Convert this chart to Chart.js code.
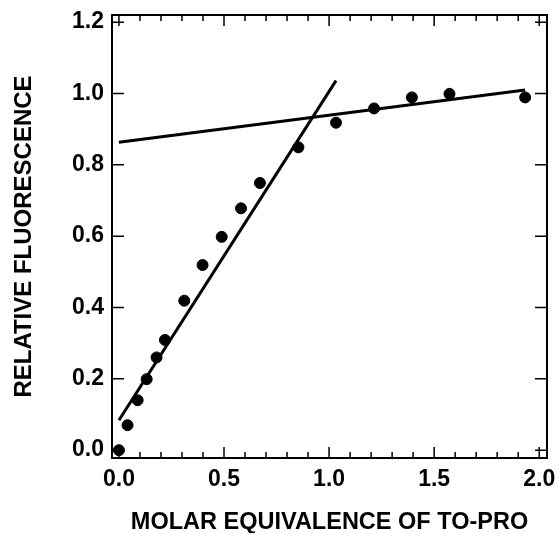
<!DOCTYPE html>
<html>
<head>
<meta charset="utf-8">
<script src="https://cdn.jsdelivr.net/npm/chart.js@4.4.1/dist/chart.umd.min.js"></script>
<style>
  html, body { margin: 0; padding: 0; background: #fff; }
  #wrap { width: 558px; height: 533px; position: relative; }
</style>
</head>
<body>
<div id="wrap"><canvas id="chart"></canvas></div>
<script>
// --- Data ---
const molarEq = [0.0, 0.041, 0.089, 0.132, 0.179, 0.219, 0.311, 0.398, 0.489, 0.581, 0.671, 0.854, 1.033, 1.214, 1.394, 1.573, 1.933];
const fluorescence = [0.0, 0.070, 0.140, 0.199, 0.260, 0.309, 0.419, 0.519, 0.598, 0.678, 0.749, 0.849, 0.918, 0.958, 0.989, 0.999, 0.989];

// fitted lines (end points)
const riseX = [0.0, 1.033];
const riseY = [0.084, 1.036];
const plateauX = [0.0, 1.933];
const plateauY = [0.863, 1.010];

// tick labels
const xMajorTicks = [0.0, 0.5, 1.0, 1.5, 2.0];
const xMinorTicks = [0.1, 0.2, 0.3, 0.4, 0.6, 0.7, 0.8, 0.9, 1.1, 1.2, 1.3, 1.4, 1.6, 1.7, 1.8, 1.9];
const yMajorTicks = [0.0, 0.2, 0.4, 0.6, 0.8, 1.0, 1.2];

const FONT = '"Liberation Sans", Arial, Helvetica, sans-serif';

function toPoints(xs, ys) {
  return xs.map((x, i) => ({ x, y: ys[i] }));
}

// --- Frame + inward ticks ---
const framePlugin = {
  id: 'frame',
  afterDatasetsDraw(chart) {
    const { ctx, chartArea: a, scales } = chart;
    ctx.save();
    ctx.strokeStyle = '#000';
    ctx.lineWidth = 2;
    ctx.strokeRect(a.left, a.top, a.right - a.left, a.bottom - a.top);
    ctx.lineWidth = 1.5;
    ctx.beginPath();
    const tickX = (v, len) => {
      const px = scales.x.getPixelForValue(v);
      ctx.moveTo(px, a.bottom); ctx.lineTo(px, a.bottom - len);
      ctx.moveTo(px, a.top); ctx.lineTo(px, a.top + len);
    };
    xMajorTicks.forEach((v) => tickX(v, 11));
    xMinorTicks.forEach((v) => tickX(v, 6));
    yMajorTicks.forEach((v) => {
      const py = scales.y.getPixelForValue(v);
      ctx.moveTo(a.left, py); ctx.lineTo(a.left + 12, py);
      ctx.moveTo(a.right, py); ctx.lineTo(a.right - 12, py);
    });
    ctx.stroke();
    ctx.restore();
  },
};

const ctx = document.getElementById('chart').getContext('2d');
new Chart(ctx, {
  type: 'scatter',
  data: {
    datasets: [
      {
        data: toPoints(molarEq, fluorescence),
        backgroundColor: '#000',
        borderColor: '#000',
        pointRadius: 5.5,
        pointHoverRadius: 5.5,
      },
      {
        data: toPoints(riseX, riseY),
        showLine: true,
        borderColor: '#000',
        borderWidth: 3,
        pointRadius: 0,
      },
      {
        data: toPoints(plateauX, plateauY),
        showLine: true,
        borderColor: '#000',
        borderWidth: 3,
        pointRadius: 0,
      },
    ],
  },
  options: {
    responsive: true,
    maintainAspectRatio: false,
    animation: false,
    layout: { padding: { top: 15, right: 11, left: 0, bottom: 0 } },
    plugins: { legend: { display: false }, tooltip: { enabled: false } },
    scales: {
      x: {
        type: 'linear',
        min: -0.033,
        max: 2.037,
        grid: { display: false, drawTicks: false },
        border: { display: false },
        afterBuildTicks: (scale) => {
          scale.ticks = xMajorTicks.map((v) => ({ value: v }));
        },
        afterFit: (scale) => {
          scale.height = 75;
          scale.paddingLeft = 0;
          scale.paddingRight = 0;
        },
        ticks: {
          autoSkip: false,
          maxRotation: 0,
          padding: 8,
          color: '#000',
          font: { family: FONT, size: 23, weight: 'bold' },
          callback: (v) => Number(v).toFixed(1),
        },
        title: {
          display: true,
          text: 'MOLAR EQUIVALENCE OF TO-PRO',
          color: '#000',
          font: { family: FONT, size: 23.5, weight: 'bold' },
          padding: { top: 0, bottom: -4 },
        },
      },
      y: {
        type: 'linear',
        min: -0.022,
        max: 1.22,
        grid: { display: false, drawTicks: false },
        border: { display: false },
        afterBuildTicks: (scale) => {
          scale.ticks = yMajorTicks.map((v) => ({ value: v }));
        },
        afterFit: (scale) => {
          scale.width = 112;
          scale.paddingTop = 0;
          scale.paddingBottom = 0;
        },
        ticks: {
          autoSkip: false,
          padding: 8,
          color: '#000',
          font: { family: FONT, size: 23, weight: 'bold' },
          callback: (v) => Number(v).toFixed(1),
        },
        title: {
          display: true,
          text: 'RELATIVE FLUORESCENCE',
          color: '#000',
          font: { family: FONT, size: 24, weight: 'bold' },
          padding: { top: 10, bottom: 0 },
        },
      },
    },
  },
  plugins: [framePlugin],
});
</script>
</body>
</html>
